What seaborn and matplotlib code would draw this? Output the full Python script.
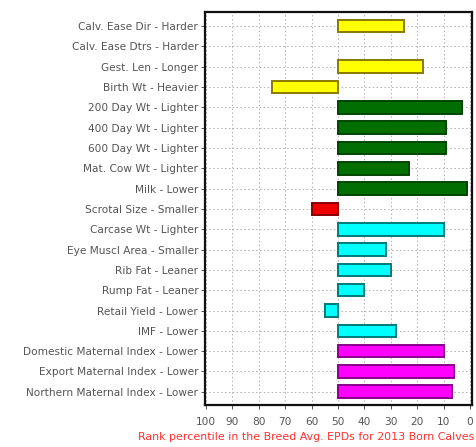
import matplotlib
matplotlib.use("Agg")
import matplotlib.pyplot as plt
from matplotlib.ticker import FixedLocator, FuncFormatter
import seaborn as sns
import pandas as pd

traits = [
    "Calv. Ease Dir - Harder",
    "Calv. Ease Dtrs - Harder",
    "Gest. Len - Longer",
    "Birth Wt - Heavier",
    "200 Day Wt - Lighter",
    "400 Day Wt - Lighter",
    "600 Day Wt - Lighter",
    "Mat. Cow Wt - Lighter",
    "Milk - Lower",
    "Scrotal Size - Smaller",
    "Carcase Wt - Lighter",
    "Eye Muscl Area - Smaller",
    "Rib Fat - Leaner",
    "Rump Fat - Leaner",
    "Retail Yield - Lower",
    "IMF - Lower",
    "Domestic Maternal Index - Lower",
    "Export Maternal Index - Lower",
    "Northern Maternal Index - Lower",
]
percentile = [25, 50, 18, 75, 3, 9, 9, 23, 1, 60, 10, 32, 30, 40, 55, 28, 10, 6, 7]
group = ["calving"] * 4 + ["growth"] * 5 + ["fertility"] + ["carcase"] * 6 + ["index"] * 3

fill_colors = {"calving": "#ffff00", "growth": "#006e00", "fertility": "#ee0000",
               "carcase": "#00ffff", "index": "#ff00ff"}
edge_colors = {"calving": "#8a7a00", "growth": "#004400", "fertility": "#8a0000",
               "carcase": "#007a7a", "index": "#8a008a"}

BREED_AVG = 50
df = pd.DataFrame({"trait": traits, "pct": percentile, "group": group})
# bars grow from the breed average (50th percentile) toward the trait's percentile
df["offset"] = BREED_AVG - df["pct"]

sns.set_style("white")
plt.rcParams["font.family"] = ["DejaVu Sans"]

fig = plt.figure(figsize=(4.77, 4.47), dpi=100)
ax = fig.add_axes([0.430, 0.094, 0.560, 0.879])

ax.set_axisbelow(True)
sns.barplot(data=df, x="offset", y="trait", hue="group", palette=fill_colors,
            orient="h", width=0.62, dodge=False, legend=False, saturation=1,
            ax=ax, zorder=3)

for patch, g, off in zip(ax.patches, df["group"], df["offset"]):
    patch.set_edgecolor(edge_colors[g])
    patch.set_linewidth(1.4 if off != 0 else 0)

ticks = list(range(-50, 51, 10))
ax.xaxis.set_major_locator(FixedLocator(ticks))
ax.xaxis.set_major_formatter(FuncFormatter(lambda v, p: f"{int(round(BREED_AVG - v))}"))
ax.set_xlim(-50.3, 50.8)
ax.set_ylim(len(traits) - 0.35, -0.69)

ax.grid(True, axis="both", color="#b0b0b0", linestyle=(0, (1.5, 2.5)), linewidth=0.7)
ax.set_xlabel("")
ax.set_ylabel("")
ax.tick_params(axis="y", labelsize=7.6, labelcolor="#555555", length=3, width=0.7,
               color="#555555", left=True, pad=2)
ax.tick_params(axis="x", labelsize=7.6, labelcolor="#555555", length=3, width=0.7,
               color="#555555", bottom=True, pad=6)
for side in ax.spines.values():
    side.set_color("#111111")
    side.set_linewidth(1.6)

fig.text(474 / 477, 1 - 437 / 447, "Rank percentile in the Breed Avg. EPDs for 2013 Born Calves",
         color="#ff3030", fontsize=7.9, ha="right", va="center")

fig.savefig("out.png", dpi=100)
